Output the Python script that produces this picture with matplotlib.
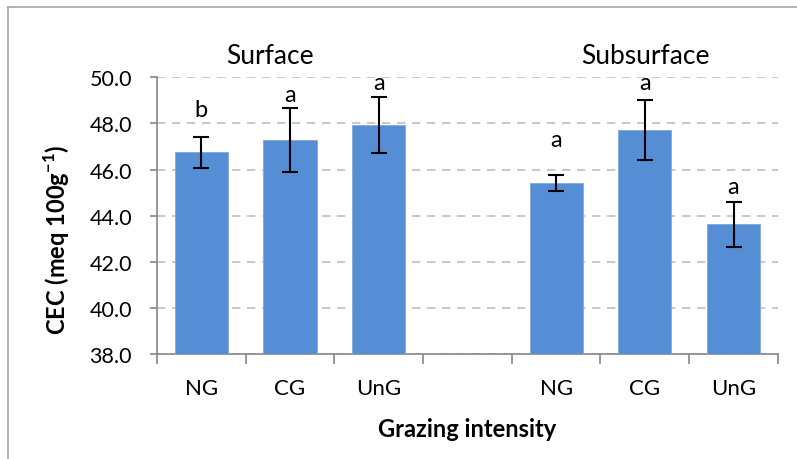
import matplotlib.pyplot as plt
from matplotlib.lines import Line2D
import numpy as np

plt.rcParams['font.family'] = ['Lato', 'DejaVu Sans']

categories = ['NG', 'CG', 'UnG', '', 'NG', 'CG', 'UnG']
cec_mean = [46.75, 47.27, 47.93, np.nan, 45.42, 47.72, 43.62]
cec_err = [0.68, 1.38, 1.20, np.nan, 0.35, 1.29, 0.97]
letters = ['b', 'a', 'a', '', 'a', 'a', 'a']
letter_y = [48.6, 49.25, 49.78, np.nan, 47.3, 49.75, 45.28]
yticks = [38.0, 40.0, 42.0, 44.0, 46.0, 48.0, 50.0]

W, H = 797, 460
fig = plt.figure(figsize=(W / 100, H / 100), dpi=100)
ax = fig.add_axes([0.197, 0.228, 0.779, 0.602])

x = np.arange(len(categories))
ax.bar(x, cec_mean, width=0.6, color='#558ED5', edgecolor='#7FA9DE', linewidth=0.6, zorder=3)
ax.errorbar(x, cec_mean, yerr=cec_err, fmt='none', ecolor='black',
            elinewidth=1.5, capsize=5.5, capthick=1.5, zorder=4)

for xi, lt, ly in zip(x, letters, letter_y):
    if lt:
        ax.text(xi, ly, lt, ha='center', va='center', fontsize=17)

ax.set_ylim(38, 50)
ax.set_xlim(-0.5, len(categories) - 0.5)
ax.set_yticks(yticks)
ax.set_yticklabels(['%.1f' % v for v in yticks], fontsize=15.5)
ax.set_xticks(x)
ax.set_xticklabels(categories, fontsize=16)
ax.set_xticks(np.arange(-0.5, len(categories)), minor=True)
ax.tick_params(axis='x', which='major', length=0, pad=17)
ax.tick_params(axis='x', which='minor', length=7, width=1.2, color='#868686')
ax.tick_params(axis='y', length=5, width=1.2, color='#868686', pad=13)

ax.yaxis.grid(True, linestyle=(0, (5, 4)), color='#BFBFBF', linewidth=1.2, zorder=0)
for side in ['top', 'right']:
    ax.spines[side].set_visible(False)
for side in ['left', 'bottom']:
    ax.spines[side].set_color('#868686')
    ax.spines[side].set_linewidth(1.2)

fig.text(57 / W, 1 - 240 / H, 'CEC (meq 100g$^{\\mathregular{-1}}$)', rotation=90,
         ha='center', va='center', fontsize=17, fontweight='bold')
fig.text(467 / W, 1 - 430 / H, 'Grazing intensity', ha='center', va='center',
         fontsize=17, fontweight='bold')

fig.text(270 / W, 1 - 56 / H, 'Surface', ha='center', va='center', fontsize=19)
fig.text(645 / W, 1 - 56 / H, 'Subsurface', ha='center', va='center', fontsize=19)

# outer frame (left and top edges as in the original)
fig.add_artist(Line2D([8 / W, 8 / W], [0, 1 - 8 / H], transform=fig.transFigure,
                      color='#A6A6A6', linewidth=1.2))
fig.add_artist(Line2D([8 / W, 1], [1 - 8 / H, 1 - 8 / H], transform=fig.transFigure,
                      color='#A6A6A6', linewidth=1.2))

fig.savefig('out.png', dpi=100)
